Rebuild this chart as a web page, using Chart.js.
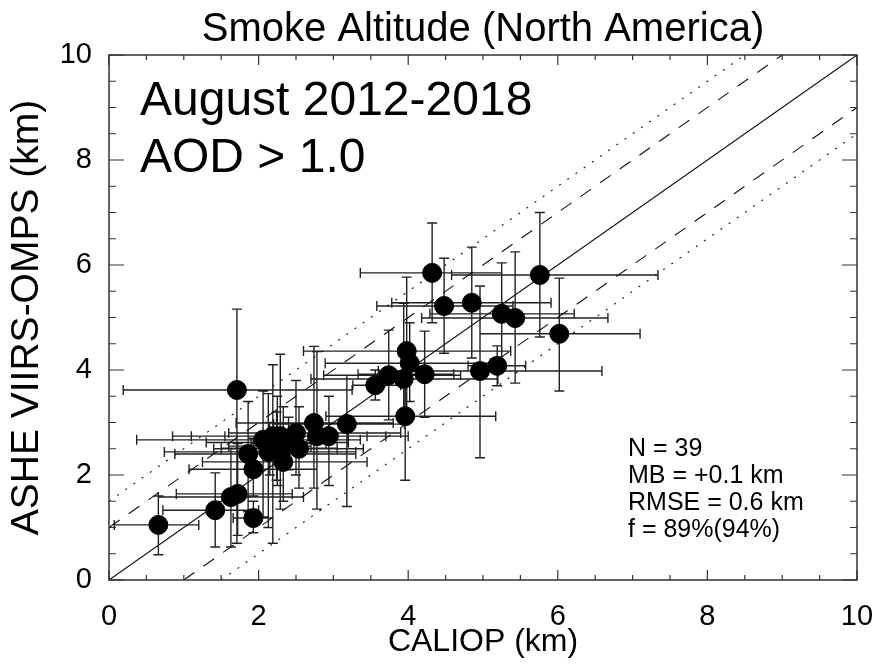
<!DOCTYPE html>
<html>
<head>
<meta charset="utf-8">
<title>Smoke Altitude (North America)</title>
<script src="https://cdn.jsdelivr.net/npm/chart.js@4.4.1/dist/chart.umd.min.js"></script>
<style>
  html, body { margin: 0; padding: 0; background: #fff; }
  #wrap { width: 877px; height: 664px; }
</style>
</head>
<body>
<div id="wrap"><canvas id="smokeChart" width="877" height="664"></canvas></div>
<script>
// CALIOP vs ASHE smoke heights (km), with error bar ends
const caliopKm = [0.66, 1.42, 1.63, 1.72, 1.93, 1.71, 1.93, 1.86, 2.06, 2.19, 2.29, 2.13, 2.24, 2.33, 2.50, 2.54, 2.74, 2.78, 2.94, 3.18,
                  3.56, 4.32, 5.76, 4.48, 4.85, 5.25, 5.43, 6.02, 3.98, 4.02, 4.22, 3.74, 3.94, 4.96, 5.19, 3.96, 2.25, 2.40, 2.15];
const asheKm   = [1.05, 1.33, 1.58, 1.64, 1.18, 3.62, 2.11, 2.40, 2.67, 2.74, 2.74, 2.44, 2.51, 2.25, 2.80, 2.50, 2.99, 2.74, 2.74, 2.97,
                  3.71, 5.85, 5.81, 5.22, 5.28, 5.07, 4.99, 4.69, 4.36, 4.13, 3.92, 3.90, 3.83, 3.98, 4.08, 3.12, 2.62, 2.60, 2.55];
const caliopLow  = [0.07, 0.72, 0.66, 0.90, 1.66, 0.19, 1.07, 0.88, 0.37, 1.10, 0.85, 0.74, 1.50, 1.25, 1.60, 1.40, 1.70, 2.30, 1.55, 2.20,
                    3.26, 3.36, 4.58, 3.58, 3.78, 4.29, 4.18, 4.96, 2.60, 2.89, 3.33, 2.87, 2.70, 3.60, 4.80, 2.90, 1.30, 1.90, 1.60];
const caliopHigh = [1.20, 2.00, 2.60, 2.45, 2.19, 3.25, 2.78, 3.30, 3.36, 3.45, 3.70, 3.30, 3.05, 3.45, 3.90, 3.40, 3.80, 3.20, 4.00, 3.95,
                    3.90, 5.25, 7.34, 5.40, 5.91, 6.22, 6.67, 7.10, 5.37, 5.10, 4.61, 4.70, 5.20, 6.59, 5.57, 5.17, 3.20, 2.90, 2.70];
const asheLow  = [0.48, 0.63, 0.63, 0.85, 0.90, 0.70, 1.60, 1.30, 1.20, 0.70, 1.35, 1.00, 1.90, 1.50, 2.00, 1.75, 1.75, 1.35, 1.80, 1.40,
                  3.43, 4.90, 4.63, 4.32, 4.23, 4.06, 3.75, 3.60, 3.18, 3.40, 3.10, 3.05, 3.00, 2.33, 3.70, 1.90, 1.80, 2.10, 2.00];
const asheHigh = [1.60, 2.04, 2.50, 2.60, 1.50, 5.16, 2.70, 3.40, 3.60, 4.10, 4.30, 3.55, 3.20, 3.30, 3.80, 3.30, 4.45, 4.35, 3.50, 3.90,
                  4.00, 6.80, 7.00, 6.13, 6.34, 6.04, 6.25, 5.75, 5.77, 4.90, 4.74, 4.76, 5.27, 5.60, 4.46, 4.40, 3.50, 3.10, 3.00];

// reference lines: 1:1, +-1 km (dashed), +-1.5 km (dotted)
const oneToOne   = [{x: 0, y: 0}, {x: 10, y: 10}];
const dashUpper  = [{x: 0, y: 1}, {x: 9, y: 10}];
const dashLower  = [{x: 1, y: 0}, {x: 10, y: 9}];
const dotUpper   = [{x: 0, y: 1.5}, {x: 8.5, y: 10}];
const dotLower   = [{x: 1.5, y: 0}, {x: 10, y: 8.5}];

const axisTicks = [0, 2, 4, 6, 8, 10];
const periodLines = ["August 2012-2018", "AOD > 1.0"];
const statLines = ["N = 39", "MB = +0.1 km", "RMSE = 0.6 km", "f = 89%(94%)"];

const FONT = "'Liberation Sans', Arial, Helvetica, sans-serif";

const points = caliopKm.map((x, i) => ({x: x, y: asheKm[i]}));

// error bars behind the dots
const errorBars = {
    id: "errorBars",
    beforeDatasetsDraw(chart) {
        const {ctx, scales: {x, y}} = chart;
        const cap = 5;
        ctx.save();
        ctx.strokeStyle = "#222";
        ctx.lineWidth = 1.4;
        ctx.beginPath();
        for (let i = 0; i < caliopKm.length; i++) {
            const px = x.getPixelForValue(caliopKm[i]);
            const py = y.getPixelForValue(asheKm[i]);
            const x0 = x.getPixelForValue(caliopLow[i]);
            const x1 = x.getPixelForValue(caliopHigh[i]);
            const y0 = y.getPixelForValue(asheLow[i]);
            const y1 = y.getPixelForValue(asheHigh[i]);
            ctx.moveTo(x0, py); ctx.lineTo(x1, py);
            ctx.moveTo(x0, py - cap); ctx.lineTo(x0, py + cap);
            ctx.moveTo(x1, py - cap); ctx.lineTo(x1, py + cap);
            ctx.moveTo(px, y0); ctx.lineTo(px, y1);
            ctx.moveTo(px - cap, y0); ctx.lineTo(px + cap, y0);
            ctx.moveTo(px - cap, y1); ctx.lineTo(px + cap, y1);
        }
        ctx.stroke();
        ctx.restore();
    }
};

// IDL-like frame with inward ticks on all sides
const frameTicks = {
    id: "frameTicks",
    afterDatasetsDraw(chart) {
        const {ctx, chartArea: a, scales: {x, y}} = chart;
        ctx.save();
        ctx.strokeStyle = "#333";
        ctx.lineWidth = 1.5;
        ctx.strokeRect(a.left, a.top, a.right - a.left, a.bottom - a.top);
        ctx.lineWidth = 1.2;
        ctx.beginPath();
        for (let v = 0; v <= 10.001; v += 0.5) {
            const major = Math.abs(v / 2 - Math.round(v / 2)) < 1e-6;
            const px = x.getPixelForValue(v);
            const lx = major ? 10 : 5;
            ctx.moveTo(px, a.bottom); ctx.lineTo(px, a.bottom - lx);
            ctx.moveTo(px, a.top); ctx.lineTo(px, a.top + lx);
            const py = y.getPixelForValue(v);
            const ly = major ? 15 : 7;
            ctx.moveTo(a.left, py); ctx.lineTo(a.left + ly, py);
            ctx.moveTo(a.right, py); ctx.lineTo(a.right - ly, py);
        }
        ctx.stroke();
        ctx.restore();
    }
};

const labels = {
    id: "labels",
    afterDraw(chart) {
        const {ctx, chartArea: a} = chart;
        ctx.save();
        ctx.fillStyle = "#000";
        ctx.textBaseline = "alphabetic";
        ctx.textAlign = "center";
        ctx.font = "40px " + FONT;
        ctx.fillText("Smoke Altitude (North America)", (a.left + a.right) / 2, 41);

        ctx.textAlign = "left";
        ctx.font = "48px " + FONT;
        ctx.fillText(periodLines[0], 140, 115);
        ctx.fillText(periodLines[1], 140, 172);

        ctx.font = "25px " + FONT;
        statLines.forEach((t, i) => ctx.fillText(t, 628, 456 + i * 27));
        ctx.restore();
    }
};

new Chart(document.getElementById("smokeChart"), {
    type: "scatter",
    data: {
        datasets: [
            {
                label: "Smoke altitude",
                data: points,
                backgroundColor: "#000",
                borderColor: "#000",
                pointRadius: 9.5,
                pointHoverRadius: 9.5,
                order: 0
            },
            { type: "line", data: oneToOne, borderColor: "#111", borderWidth: 1.1, pointRadius: 0, order: 1 },
            { type: "line", data: dashUpper, borderColor: "#111", borderWidth: 1.1, borderDash: [13, 11], pointRadius: 0, order: 1 },
            { type: "line", data: dashLower, borderColor: "#111", borderWidth: 1.1, borderDash: [13, 11], pointRadius: 0, order: 1 },
            { type: "line", data: dotUpper, borderColor: "#111", borderWidth: 1.1, borderDash: [2, 8], pointRadius: 0, order: 1 },
            { type: "line", data: dotLower, borderColor: "#111", borderWidth: 1.1, borderDash: [2, 8], pointRadius: 0, order: 1 }
        ]
    },
    options: {
        responsive: false,
        animation: false,
        layout: { padding: { top: 55, right: 20, left: 0, bottom: 0 } },
        plugins: {
            legend: { display: false },
            tooltip: { enabled: false },
            title: { display: false }
        },
        scales: {
            x: {
                type: "linear",
                min: 0, max: 10,
                grid: { display: false },
                border: { display: false },
                afterBuildTicks: s => { s.ticks = axisTicks.map(v => ({value: v})); },
                ticks: { color: "#000", font: { family: FONT, size: 29 }, padding: 12, maxRotation: 0 },
                title: { display: true, text: "CALIOP (km)", color: "#000", font: { family: FONT, size: 32 }, padding: { top: 3, bottom: 3 } },
                afterFit: s => { s.height = 84; s.paddingLeft = 0; s.paddingRight = 0; }
            },
            y: {
                type: "linear",
                min: 0, max: 10,
                grid: { display: false },
                border: { display: false },
                afterBuildTicks: s => { s.ticks = axisTicks.map(v => ({value: v})); },
                ticks: { color: "#000", font: { family: FONT, size: 29 }, padding: 9 },
                title: { display: true, text: "ASHE VIIRS-OMPS (km)", color: "#000", font: { family: FONT, size: 39 }, padding: { top: 4, bottom: 0 } },
                afterFit: s => { s.width = 109; s.paddingTop = 0; s.paddingBottom = 0; }
            }
        }
    },
    plugins: [errorBars, frameTicks, labels]
});
</script>
</body>
</html>
